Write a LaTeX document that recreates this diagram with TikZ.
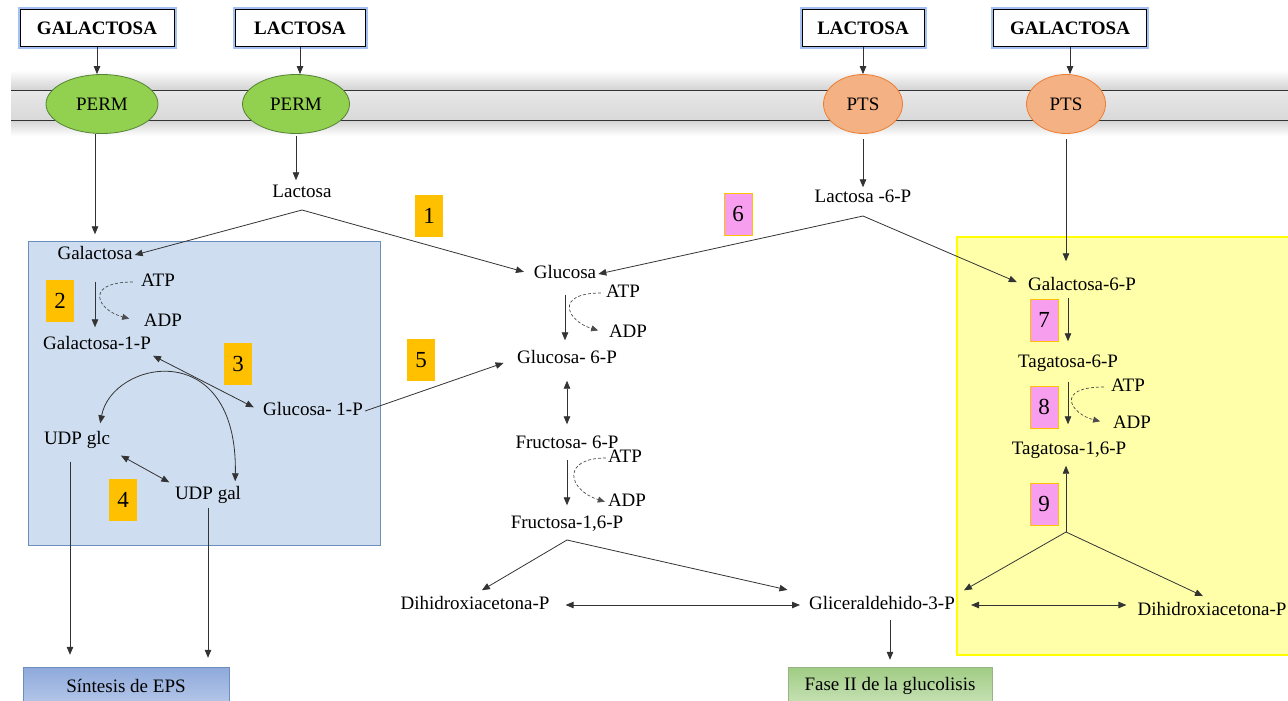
\documentclass[tikz,border=0pt]{standalone}
\usepackage{fontspec}
\setmainfont{Liberation Serif}
\usetikzlibrary{arrows.meta,shapes.geometric}
\definecolor{verde}{RGB}{146,208,80}
\definecolor{verdeb}{RGB}{84,130,53}
\definecolor{salmon}{RGB}{244,177,131}
\definecolor{salmonb}{RGB}{237,125,49}
\definecolor{naranja}{RGB}{255,192,0}
\definecolor{rosa}{RGB}{247,158,238}
\definecolor{azulc}{RGB}{206,222,240}
\definecolor{azulb}{RGB}{108,142,191}
\definecolor{azulo}{RGB}{142,169,219}
\definecolor{azulf}{RGB}{182,200,233}
\definecolor{verdeo}{RGB}{160,204,132}
\definecolor{verdef}{RGB}{200,226,182}
\definecolor{amarillo}{RGB}{255,255,170}
\definecolor{amarillob}{RGB}{255,255,0}
\definecolor{halo}{RGB}{165,192,242}
\begin{document}
\begin{tikzpicture}[x=1pt,y=-1pt,node font=\fontsize{19}{22}\selectfont,
    met/.style={inner sep=2pt,text height=13pt,text depth=4pt},
    titulo/.style={draw=black,fill=white,line width=1pt,font=\bfseries,minimum height=37pt,
        preaction={draw=halo,line width=5pt}},
    perm/.style={ellipse,draw=verdeb,fill=verde,line width=0.8pt,minimum width=112pt,minimum height=59pt},
    pts/.style={ellipse,draw=salmonb,fill=salmon,line width=0.8pt,minimum width=79pt,minimum height=59pt},
    num/.style={fill=naranja,minimum width=28pt,minimum height=42pt,inner sep=0pt,font=\fontsize{23}{26}\selectfont},
    numr/.style={num,fill=rosa,draw=naranja,line width=0.8pt},
    sintesis/.style={draw=azulb,top color=azulo,bottom color=azulf,minimum width=206pt,minimum height=38pt},
    fase/.style={draw=verdeb!60,top color=verdeo,bottom color=verdef,minimum width=204pt,minimum height=38pt},
    flecha/.style={-{Triangle[length=8pt,width=6.5pt]},line width=0.8pt,draw=black!80},
    doble/.style={{Triangle[length=8pt,width=6.5pt]}-{Triangle[length=8pt,width=6.5pt]},line width=0.8pt,draw=black!80},
    energia/.style={-{Triangle[length=7pt,width=6pt]},densely dashed,line width=0.7pt,draw=black!70}]
\useasboundingbox (0,0) rectangle (1288,701);

\shade[top color=white,bottom color=gray!35] (11,70) rectangle (1288,90);
\shade[top color=gray!18,middle color=white!97!gray,bottom color=gray!30] (11,90) rectangle (1288,120);
\shade[top color=gray!35,bottom color=white] (11,120) rectangle (1288,136);
\draw[gray!40!black,line width=0.8pt] (11,90) -- (1288,90) (11,120) -- (1288,120);

\draw[fill=azulc,draw=azulb,line width=0.8pt] (28,241) rectangle (380,545);
\draw[fill=amarillo,draw=amarillob,line width=1.5pt] (957,237) rectangle (1295,655);

\node[titulo,minimum width=154pt] (tgal1) at (97,28) {GALACTOSA};
\node[titulo,minimum width=130pt] (tlac1) at (300,28) {LACTOSA};
\node[titulo,minimum width=122pt] (tlac2) at (863,28) {LACTOSA};
\node[titulo,minimum width=153pt] (tgal2) at (1070,28) {GALACTOSA};

\node[perm] (perm1) at (102,104) {PERM};
\node[perm,minimum width=107pt] (perm2) at (296,104) {PERM};
\node[pts] (pts1) at (863,104) {PTS};
\node[pts] (pts2) at (1066,104) {PTS};

\node[met] (lac) at (302,193) {Lactosa};
\node[met] (lac6) at (863,198) {Lactosa -6-P};
\node[met] (gal) at (95,255) {Galactosa};
\node[met] (atp1) at (158,282) {ATP};
\node[met] (adp1) at (163,322) {ADP};
\node[met] (gal1p) at (97,345) {Galactosa-1-P};
\node[met] (glu1p) at (313,411) {Glucosa- 1-P};
\node[met] (udpglc) at (77,440) {UDP glc};
\node[met] (udpgal) at (208,495) {UDP gal};
\node[met] (glc) at (565,274) {Glucosa};
\node[met] (atp2) at (623,293) {ATP};
\node[met] (adp2) at (628,333) {ADP};
\node[met] (glu6p) at (567,359) {Glucosa- 6-P};
\node[met] (fru6p) at (567,444) {Fructosa- 6-P};
\node[met] (atp3) at (625,458) {ATP};
\node[met] (adp3) at (627,502) {ADP};
\node[met] (fru16p) at (567,524) {Fructosa-1,6-P};
\node[met] (dhap1) at (475,605) {Dihidroxiacetona-P};
\node[met] (gap) at (882,605) {Gliceraldehido-3-P};
\node[met] (gal6) at (1082,286) {Galactosa-6-P};
\node[met] (tag6p) at (1068,363) {Tagatosa-6-P};
\node[met] (atp4) at (1128,387) {ATP};
\node[met] (adp4) at (1132,424) {ADP};
\node[met] (tag16p) at (1069,450) {Tagatosa-1,6-P};
\node[met] (dhap2) at (1212,611) {Dihidroxiacetona-P};

\node[num] (n1) at (429,216) {1};
\node[num] (n2) at (60,301) {2};
\node[num] (n3) at (238,364) {3};
\node[num] (n4) at (123,500) {4};
\node[num] (n5) at (421,360) {5};
\node[numr] (n6) at (738,214) {6};
\node[numr] (n7) at (1044,320) {7};
\node[numr] (n8) at (1044,407) {8};
\node[numr] (n9) at (1044,504) {9};

\node[sintesis] (eps) at (126,686) {Síntesis de EPS};
\node[fase] (fase2) at (890,686) {Fase II de la glucolisis};

\coordinate (jlac) at (302,210);
\coordinate (jlac6) at (863,216);
\coordinate (jfru) at (567,540);
\coordinate (jtag) at (1066,532);

\foreach \t/\e in {tgal1/perm1,tlac1/perm2,tlac2/pts1,tgal2/pts2}
    \draw[flecha] (\t.south) -- (\t.south |- \e.north);

\draw[flecha,shorten >=10pt] (gal.north |- perm1.south) -- (gal.north);
\draw[flecha,shorten <=2pt,shorten >=2pt] (perm2.south) -- (perm2.south |- lac.north);
\draw[flecha,shorten <=5pt] (pts1.south) -- (lac6.north);
\draw[flecha,shorten <=5pt,shorten >=14pt] (pts2.south) -- (pts2.south |- gal6.north);

\draw[flecha] (jlac) -- (gal.east);
\draw[flecha,shorten >=8pt] (jlac) -- (glc.west);
\draw[flecha] (jlac6) -- (glc.east);
\draw[flecha,shorten >=10pt] (jlac6) -- (gal6.west);

\draw[flecha,shorten <=16pt,shorten >=7pt] (gal.south) -- (gal.south |- gal1p.north);
\draw[energia,shorten <=6pt,shorten >=13pt] (atp1.west) .. controls +(-55,0) and +(-45,-12) .. (adp1.west);
\draw[doble,shorten >=8pt] (gal1p.south east) -- (glu1p.west);
\draw[doble] ([xshift=-12pt,yshift=6pt]udpglc.north east) .. controls (112,360) and (238,335) .. ([xshift=-8pt,yshift=3pt]udpgal.north east);
\draw[doble,shorten <=10pt,shorten >=4pt] (udpglc.south east) -- (udpgal.north west);
\draw[flecha,shorten <=11pt,shorten >=12pt] ([xshift=-7pt]udpglc.south) -- ([xshift=-7pt]udpglc.south |- eps.north);
\draw[flecha,shorten <=2pt,shorten >=9pt] (udpgal.south) -- (udpgal.south |- eps.north);
\draw[flecha,shorten >=12pt] (glu1p.east) -- (glu6p.west);

\draw[flecha,shorten <=10pt,shorten >=8pt] (glc.south) -- (glc.south |- glu6p.north);
\draw[energia,shorten <=3pt,shorten >=9pt] (atp2.west) .. controls +(-50,0) and +(-40,-12) .. (adp2.west);
\draw[doble,shorten <=11pt,shorten >=9pt] (glu6p.south) -- (fru6p.north);
\draw[flecha,shorten <=5pt,shorten >=8pt] (fru6p.south) -- (fru16p.north);
\draw[energia,shorten >=1pt] (atp3.west) .. controls +(-45,0) and +(-38,-12) .. (adp3.west);
\draw[flecha,shorten >=8pt] (jfru) -- (dhap1.north);
\draw[flecha,shorten >=20pt] (jfru) -- (gap.north west);
\draw[doble,shorten <=14pt,shorten >=7pt] (dhap1.east) -- (gap.west);
\draw[flecha,shorten <=4pt,shorten >=7pt] (fase2.north |- gap.south) -- (fase2.north);

\draw[flecha,shorten <=1pt,shorten >=11pt] (tag6p.north |- gal6.south) -- (tag6p.north);
\draw[flecha,shorten <=8pt,shorten >=15pt] (tag6p.south) -- (tag6p.south |- tag16p.north);
\draw[energia,shorten <=5pt,shorten >=11pt] (atp4.west) .. controls +(-55,0) and +(-40,-10) .. (adp4.west);
\draw[flecha,shorten >=5pt] (jtag) -- (jtag |- tag16p.south);
\draw[flecha,shorten >=8pt] (jtag) -- (gap.north east);
\draw[flecha,shorten >=10pt] (jtag) -- (dhap2.north);
\draw[doble,shorten <=14pt,shorten >=9pt] (gap.east) -- (gap.east -| dhap2.west);
\end{tikzpicture}
\end{document}
